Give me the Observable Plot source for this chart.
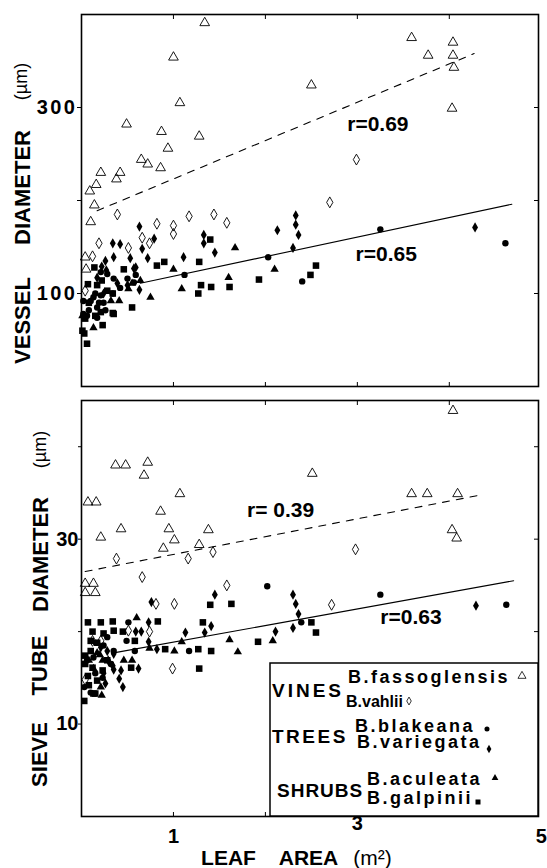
<!DOCTYPE html>
<html>
<head>
<meta charset="utf-8">
<script src="https://cdn.jsdelivr.net/npm/d3@7"></script>
<script src="https://cdn.jsdelivr.net/npm/@observablehq/plot@0.6"></script>
<style>
html,body{margin:0;padding:0;background:#fff;}
#wrap{position:relative;width:547px;height:868px;overflow:hidden;font-family:"Liberation Sans",Arial,Helvetica,sans-serif;}
#top,#bot,#legend{position:absolute;left:0;}
#top{top:0;}
#bot{top:396px;}
#legend{left:269px;top:662px;}
#top [aria-label="y-axis tick label"] text{letter-spacing:2.5px;}
</style>
</head>
<body>
<div id="wrap"><div id="top"></div><div id="bot"></div><div id="legend"></div></div>
<script>
// ---------- tick values ----------
const xTicks = [1, 2, 3, 4];
const xTickLabels = [1, 3, 5];
const vesselTicks = [100, 200, 300];
const vesselTickLabels = [100, 300];
const sieveTicks = [10, 20, 30, 40];
const sieveTickLabels = [10, 30];

// ---------- VESSEL DIAMETER (µm) vs LEAF AREA (m²) ----------
const vesselFassoglensis = [[1.34,391],[1.00,354],[1.07,305],[0.49,282],[0.87,274],[1.28,269],[0.94,256],[0.65,244],[0.72,239],[0.86,235],[0.21,230],[0.42,230],[0.38,223],[0.16,217],[0.09,210],[0.14,195],[0.10,177],[0.04,139],[0.05,126],[3.59,375],[4.04,370],[3.77,356],[4.04,356],[4.05,343],[4.03,299],[2.50,324]];
const vesselVahlii = [[0.39,185],[0.82,175],[1.00,173],[1.00,164],[1.17,183],[1.44,185],[1.58,176],[0.66,160],[0.74,154],[0.51,149],[0.19,154],[0.12,140],[0.04,103],[2.99,244],[2.70,198]];
const vesselBlakeana = [[1.12,120],[2.03,139],[3.25,169],[2.40,113],[4.61,154],[0.21,123],[0.28,121],[0.35,116],[0.50,116],[0.59,120],[0.02,92],[0.10,92],[0.15,100],[0.21,98],[0.02,78],[0.08,82],[0.17,85],[0.24,90],[0.42,106],[0.13,96],[0.19,90],[0.26,82],[0.06,76],[0.17,74],[0.34,100],[0.57,112]];
const vesselVariegata = [[0.63,172],[0.79,159],[0.66,148],[0.34,154],[0.42,153],[0.35,139],[0.53,138],[0.72,138],[0.26,135],[0.22,129],[0.59,128],[1.11,139],[1.33,163],[1.33,154],[1.45,144],[0.27,125],[0.63,104],[2.13,168],[2.33,184],[2.33,174],[2.36,163],[2.30,149],[4.28,171],[0.17,117],[0.57,127],[0.39,111],[0.24,100],[0.50,109]];
const vesselAculeata = [[1.67,149],[1.00,126],[1.09,105],[1.60,117],[0.75,96],[0.64,114],[0.13,63],[0.41,92],[2.10,126],[0.55,111],[0.51,105],[0.32,92],[0.01,76]];
const vesselGalpinii = [[1.40,158],[1.28,134],[0.90,134],[0.82,130],[0.46,126],[0.14,128],[1.30,109],[1.41,107],[1.61,107],[1.27,100],[1.93,115],[0.55,85],[0.22,114],[0.07,110],[0.34,100],[0.35,78],[0.23,66],[0.06,46],[0.03,57],[2.49,120],[2.55,130],[0.17,109],[0.28,103],[0.08,90],[0.21,80],[0.34,79],[0.04,73],[0.15,76],[0.01,60]];
const vesselVineFit = [[0.17,189],[4.27,358]];
const vesselTreeShrubFit = [[0.64,111],[4.68,196]];

// ---------- SIEVE TUBE DIAMETER (µm) vs LEAF AREA (m²) ----------
const sieveFassoglensis = [[0.37,38.0],[0.48,38.0],[0.72,38.3],[0.68,36.9],[0.07,34.0],[0.16,34.0],[1.07,34.9],[0.86,33.0],[0.43,31.1],[0.95,31.1],[1.38,31.0],[0.21,30.2],[1.01,29.9],[1.28,29.4],[0.89,29.0],[0.04,25.2],[0.13,25.2],[0.04,24.2],[0.15,24.2],[2.51,37.1],[3.59,34.9],[3.76,34.9],[4.09,34.9],[4.03,31.0],[4.08,30.1],[4.04,43.9]];
const sieveVahlii = [[0.38,27.9],[1.16,27.9],[1.43,28.6],[0.66,25.9],[1.58,25.0],[0.81,23.0],[1.01,23.0],[0.74,20.0],[0.51,20.1],[0.21,19.0],[0.12,19.0],[0.99,16.0],[0.04,14.8],[2.98,28.9],[2.72,22.9]];
const sieveBlakeana = [[2.02,24.9],[3.25,24.0],[4.62,22.9],[2.39,21.0],[1.17,17.9],[0.58,17.9],[0.51,21.0],[0.35,17.9],[0.49,19.0],[0.24,18.5],[0.13,17.2],[0.06,16.9],[0.03,14.0],[0.15,15.5],[0.23,15.0],[0.10,13.4],[0.32,16.5],[0.28,19.4]];
const sieveVariegata = [[0.76,23.2],[1.45,24.0],[1.41,20.6],[1.34,19.9],[1.13,19.9],[0.73,21.0],[0.65,20.0],[0.59,20.0],[0.73,18.9],[0.82,18.1],[0.62,16.0],[0.43,15.8],[0.35,15.9],[0.41,14.9],[0.45,14.0],[2.30,24.0],[2.33,23.0],[2.36,21.9],[2.30,20.4],[2.11,20.0],[4.29,22.8],[0.35,17.6],[0.29,16.9],[0.34,16.3],[0.28,17.9],[0.21,18.3],[0.24,15.5],[0.26,14.4]];
const sieveAculeata = [[0.60,21.5],[1.09,18.9],[1.61,19.1],[1.70,17.8],[1.01,17.9],[0.74,18.2],[0.46,16.9],[0.55,16.9],[0.20,17.5],[0.22,13.1],[2.08,19.0],[0.23,16.9],[0.13,16.0],[0.21,14.0],[0.08,16.9],[0.17,17.7]];
const sieveGalpinii = [[1.40,22.9],[1.63,23.0],[1.32,21.0],[0.83,21.1],[1.92,18.9],[1.41,17.9],[1.27,18.1],[0.91,18.1],[1.28,16.0],[0.54,16.1],[0.07,21.0],[0.21,21.0],[0.34,21.1],[0.35,20.1],[0.45,20.0],[0.12,20.0],[0.24,19.8],[0.58,19.0],[0.04,17.4],[0.03,12.5],[0.13,13.3],[2.50,21.0],[2.55,19.9],[0.17,18.8],[0.10,17.9],[0.04,16.5],[0.12,16.1],[0.07,15.2],[0.17,14.7],[0.08,14.2],[0.15,13.3],[0.23,15.8],[0.28,16.9],[0.10,19.0]];
const sieveVineFit = [[0.04,26.5],[4.30,34.7]];
const sieveTreeShrubFit = [[0.35,17.7],[4.70,25.5]];

// ---------- correlation labels ----------
const vesselR = ["r=0.69", "r=0.65"];
const sieveR = ["r= 0.39", "r=0.63"];

// ---------- legend text ----------
const groupNames = ["VINES", "TREES", "SHRUBS"];
const speciesNames = ["B.fassoglensis", "B.vahlii", "B.blakeana", "B.variegata", "B.aculeata", "B.galpinii"];

// ---------- styling ----------
const FONT = "'Liberation Sans', Arial, Helvetica, sans-serif";
const sty = {
  fassoglensis: {symbol: "triangle", r: 3.6, fill: "none", stroke: "black", strokeWidth: 0.9},
  vahlii: {symbol: "diamond", r: 3.3, fill: "none", stroke: "black", strokeWidth: 0.9},
  blakeana: {symbol: "circle", r: 3.2, fill: "black", stroke: "none"},
  variegata: {symbol: "diamond", r: 3.1, fill: "black", stroke: "none"},
  aculeata: {symbol: "triangle", r: 3.1, fill: "black", stroke: "none"},
  galpinii: {symbol: "square", r: 3.7, fill: "black", stroke: "none"}
};
const X = d => d[0], Y = d => d[1];
const dots = (pts, s) => Plot.dot(pts, {x: X, y: Y, ...s});
const blank = () => "";

function frameTicks(yTicks) {
  return [
    Plot.axisX(xTicks, {anchor: "top", tickSize: -4, tickFormat: blank, label: null}),
    Plot.axisX(xTicks, {anchor: "bottom", tickSize: -4, tickFormat: blank, label: null}),
    Plot.axisY(yTicks, {anchor: "right", tickSize: -5, tickFormat: blank, label: null}),
    Plot.frame({stroke: "black", strokeWidth: 1.6})
  ];
}
const rotLabel = (t, dx, dy, size, weight) =>
  Plot.text([t], {frameAnchor: "top-left", dx, dy, rotate: -90, textAnchor: "middle", lineAnchor: "middle",
    fontSize: size, fontWeight: weight, fill: "black"});
const bottomLabel = (t, dx, weight, ls) =>
  Plot.text([t], {frameAnchor: "bottom-left", dx, dy: 48, textAnchor: "middle", lineAnchor: "bottom",
    fontSize: 21, fontWeight: weight, fill: "black", style: {letterSpacing: ls}});

// ---------- top panel ----------
const topPlot = Plot.plot({
  width: 547, height: 400,
  marginLeft: 81, marginRight: 9, marginTop: 14, marginBottom: 14,
  x: {domain: [0, 4.97]},
  y: {domain: [0, 400]},
  style: {fontFamily: FONT, overflow: "visible", background: "transparent"},
  marks: [
    ...frameTicks(vesselTicks),
    Plot.axisY(vesselTicks, {anchor: "left", tickSize: 4, tickPadding: 0,
      tickFormat: d => vesselTickLabels.includes(d) ? String(d) : "", fontSize: 20, fontWeight: "bold", label: null}),
    Plot.line(vesselVineFit, {x: X, y: Y, stroke: "black", strokeWidth: 1.1, strokeDasharray: "7,7"}),
    Plot.line(vesselTreeShrubFit, {x: X, y: Y, stroke: "black", strokeWidth: 1.1}),
    dots(vesselFassoglensis, sty.fassoglensis),
    dots(vesselVahlii, sty.vahlii),
    dots(vesselGalpinii, sty.galpinii),
    dots(vesselAculeata, sty.aculeata),
    dots(vesselBlakeana, sty.blakeana),
    dots(vesselVariegata, sty.variegata),
    Plot.text([vesselR[0]], {x: 2.89, y: 282, textAnchor: "start", lineAnchor: "middle", fontSize: 21, fontWeight: "bold"}),
    Plot.text([vesselR[1]], {x: 2.98, y: 142, textAnchor: "start", lineAnchor: "middle", fontSize: 21, fontWeight: "bold"}),
    rotLabel("VESSEL", -59, 306, 22, "bold"),
    rotLabel("DIAMETER", -59, 173, 22, "bold"),
    rotLabel("(µm)", -60, 67, 18, "normal")
  ]
});
document.getElementById("top").append(topPlot);

// ---------- bottom panel ----------
const botPlot = Plot.plot({
  width: 547, height: 472,
  marginLeft: 81, marginRight: 9, marginTop: 4, marginBottom: 52,
  x: {domain: [0, 4.97]},
  y: {domain: [0, 45]},
  style: {fontFamily: FONT, overflow: "visible", background: "transparent"},
  marks: [
    ...frameTicks(sieveTicks),
    Plot.axisY(sieveTicks, {anchor: "left", tickSize: 3, tickPadding: 0,
      tickFormat: d => sieveTickLabels.includes(d) ? String(d) : "", fontSize: 20, fontWeight: "bold", label: null}),
    Plot.axisX(xTickLabels.filter(d => d !== 3), {anchor: "bottom", tickSize: 0, tickPadding: 12, fontSize: 20, fontWeight: "bold", label: null}),
    Plot.axisX(xTickLabels.filter(d => d === 3), {anchor: "bottom", tickSize: 0, tickPadding: -1, fontSize: 20, fontWeight: "bold", label: null}),
    Plot.line(sieveVineFit, {x: X, y: Y, stroke: "black", strokeWidth: 1.1, strokeDasharray: "7,7"}),
    Plot.line(sieveTreeShrubFit, {x: X, y: Y, stroke: "black", strokeWidth: 1.1}),
    dots(sieveFassoglensis, sty.fassoglensis),
    dots(sieveVahlii, sty.vahlii),
    dots(sieveGalpinii, sty.galpinii),
    dots(sieveAculeata, sty.aculeata),
    dots(sieveBlakeana, sty.blakeana),
    dots(sieveVariegata, sty.variegata),
    Plot.text([sieveR[0]], {x: 1.80, y: 33.1, textAnchor: "start", lineAnchor: "middle", fontSize: 21, fontWeight: "bold"}),
    Plot.text([sieveR[1]], {x: 3.25, y: 21.5, textAnchor: "start", lineAnchor: "middle", fontSize: 21, fontWeight: "bold"}),
    rotLabel("SIEVE", -42, 354, 22, "bold"),
    rotLabel("TUBE", -42, 265, 22, "bold"),
    rotLabel("DIAMETER", -41, 154, 22, "bold"),
    rotLabel("(µm)", -41, 49, 18, "normal"),
    bottomLabel("LEAF", 147, "bold", "1.5px"),
    bottomLabel("AREA", 227, "bold", "0px"),
    bottomLabel("(m²)", 291, "normal", "2px")
  ]
});
document.getElementById("bot").append(botPlot);

// ---------- legend ----------
const lg = d3.select("#legend").append("svg").attr("width", 272).attr("height", 158)
  .style("font-family", FONT).style("overflow", "visible");
lg.append("rect").attr("x", 1).attr("y", 1).attr("width", 268).attr("height", 153)
  .attr("fill", "white").attr("stroke", "black").attr("stroke-width", 1.5);
const groupLayout = [
  {t: groupNames[0], x: 3, y: 35, ls: 3},
  {t: groupNames[1], x: 3, y: 81, ls: 2.5},
  {t: groupNames[2], x: 8, y: 135, ls: 1}
];
groupLayout.forEach(g => lg.append("text").attr("x", g.x).attr("y", g.y).attr("font-size", 19)
  .attr("font-weight", "bold").style("letter-spacing", g.ls + "px").text(g.t));
const speciesLayout = [
  {t: speciesNames[0], x: 79, y: 21, size: 18, ls: 2.5, sym: d3.symbolTriangle, ss: 28, sx: 253, sy: 14, open: true},
  {t: speciesNames[1], x: 77, y: 45, size: 16, ls: 0, sym: d3.symbolDiamond, ss: 18, sx: 140, sy: 39, open: true},
  {t: speciesNames[2], x: 86, y: 70, size: 18, ls: 2.5, sym: d3.symbolCircle, ss: 20, sx: 218, sy: 67, open: false},
  {t: speciesNames[3], x: 88, y: 86, size: 18, ls: 2.5, sym: d3.symbolDiamond, ss: 20, sx: 220, sy: 87, open: false},
  {t: speciesNames[4], x: 98, y: 123, size: 18, ls: 2.5, sym: d3.symbolTriangle, ss: 20, sx: 226, sy: 116, open: false},
  {t: speciesNames[5], x: 98, y: 142, size: 18, ls: 2.5, sym: d3.symbolSquare, ss: 25, sx: 209, sy: 140, open: false}
];
speciesLayout.forEach(s => {
  lg.append("text").attr("x", s.x).attr("y", s.y).attr("font-size", s.size).attr("font-weight", "bold")
    .style("letter-spacing", s.ls + "px").text(s.t);
  lg.append("path").attr("d", d3.symbol(s.sym, s.ss)()).attr("transform", `translate(${s.sx},${s.sy})`)
    .attr("fill", s.open ? "none" : "black").attr("stroke", s.open ? "black" : "none").attr("stroke-width", 0.8);
});
</script>
</body>
</html>
